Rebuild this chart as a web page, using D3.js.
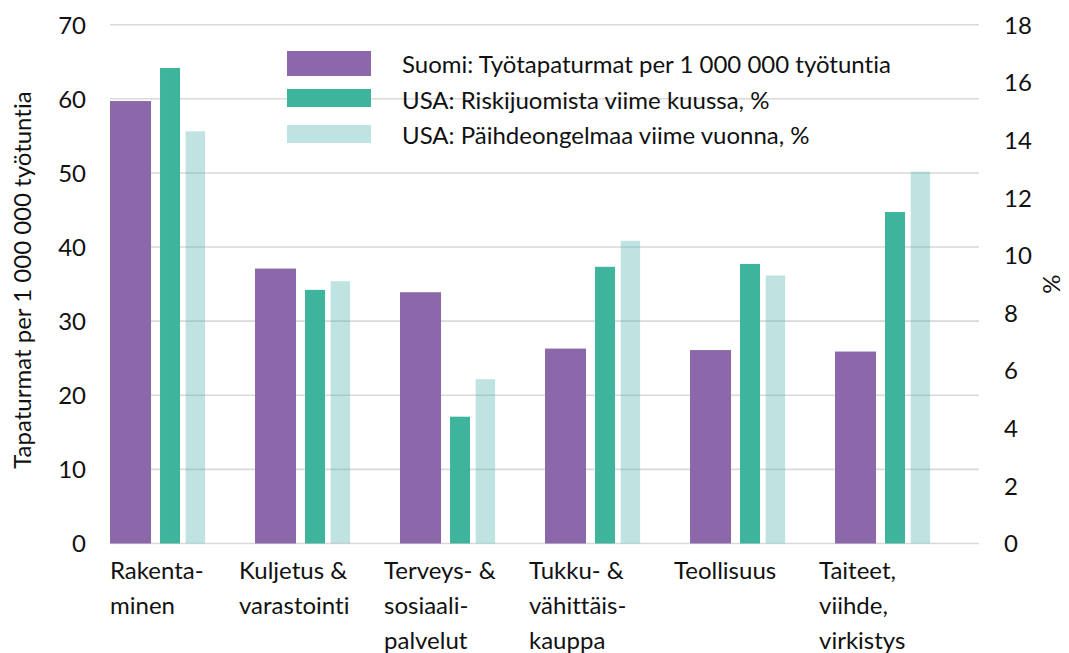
<!DOCTYPE html>
<html>
<head>
<meta charset="utf-8">
<script src="https://cdn.jsdelivr.net/npm/d3@7"></script>
<style>
  body { margin: 0; background: #fff; }
  svg text { font-family: Lato, "Open Sans", sans-serif; fill: #111; font-variant-ligatures: none; }
</style>
</head>
<body>
<svg id="chart" width="1069" height="653"></svg>
<script>
// categories, each label already split into lines
var categories = ["Rakentaminen", "Kuljetus", "Terveys", "Tukku", "Teollisuus", "Taiteet"];
var categoryLines = [
    ["Rakenta-", "minen"],
    ["Kuljetus &", "varastointi"],
    ["Terveys- &", "sosiaali-", "palvelut"],
    ["Tukku- &", "vähittäis-", "kauppa"],
    ["Teollisuus"],
    ["Taiteet,", "viihde,", "virkistys"]
];
// Suomi: työtapaturmat per 1 000 000 työtuntia (left axis)
var suomi = [59.7, 37.1, 33.9, 26.3, 26.1, 25.9];
// USA: riskijuomista viime kuussa, % (right axis)
var riski = [16.5, 8.8, 4.4, 9.6, 9.7, 11.5];
// USA: päihdeongelmaa viime vuonna, % (right axis)
var paihde = [14.3, 9.1, 5.7, 10.5, 9.3, 12.9];

var leftTicks = [0, 10, 20, 30, 40, 50, 60, 70];
var rightTicks = [0, 2, 4, 6, 8, 10, 12, 14, 16, 18];
var legendLabels = [
    "Suomi: Työtapaturmat per 1 000 000 työtuntia",
    "USA: Riskijuomista viime kuussa, %",
    "USA: Päihdeongelmaa viime vuonna, %"
];

var colors = { suomi: "#8B68A9", riski: "#3FB49C", paihde: "#5FB9B4" };
var fs = 24;

var svg = d3.select("#chart");
var plotL = 110, plotR = 980, plotT = 24.7, plotB = 543.5;

var x = d3.scaleBand().domain(categories).range([plotL, plotR]).padding(0);
var yL = d3.scaleLinear().domain([0, 70]).range([plotB, plotT]);
var yR = d3.scaleLinear().domain([0, 18]).range([plotB, plotT]);

// gridlines
svg.append("g")
    .selectAll("line")
    .data(leftTicks)
    .enter().append("line")
    .attr("x1", plotL).attr("x2", plotR - 1)
    .attr("y1", d => yL(d)).attr("y2", d => yL(d))
    .attr("stroke", "#d9d9d9")
    .attr("stroke-width", 1.6);

// left axis
var axL = svg.append("g")
    .attr("transform", `translate(${plotL - 24},0)`)
    .call(d3.axisLeft(yL).tickValues(leftTicks).tickSize(0).tickPadding(0));
axL.select(".domain").remove();
axL.selectAll("text").attr("font-size", fs).attr("dy", "0.35em");

// right axis
var axR = svg.append("g")
    .attr("transform", `translate(1004,0)`)
    .call(d3.axisRight(yR).tickValues(rightTicks).tickSize(0).tickPadding(0));
axR.select(".domain").remove();
axR.selectAll("text").attr("font-size", fs).attr("dy", "0.35em");
svg.selectAll("g").attr("font-family", null);

// bars: offsets inside each 145px group
var bw = x.bandwidth();
var series = [
    { values: suomi, scale: yL, color: colors.suomi, off: 0, w: bw * 0.283, op: 1 },
    { values: riski, scale: yR, color: colors.riski, off: bw * 0.345, w: bw * 0.138, op: 1 },
    { values: paihde, scale: yR, color: colors.paihde, off: bw * 0.522, w: bw * 0.134, op: 0.4 }
];
series.forEach(function (s) {
    svg.append("g")
        .selectAll("rect")
        .data(s.values)
        .enter().append("rect")
        .attr("x", (d, i) => x(categories[i]) + s.off)
        .attr("width", s.w)
        .attr("y", d => s.scale(d))
        .attr("height", d => plotB - s.scale(d))
        .attr("fill", s.color)
        .attr("fill-opacity", s.op);
});

// category labels
var lab = svg.append("g")
    .selectAll("text")
    .data(categoryLines)
    .enter().append("text")
    .attr("font-size", fs)
    .attr("x", (d, i) => Math.max(plotL, x(categories[i]) - 16));
lab.each(function (lines, i) {
    var t = d3.select(this);
    var lx = t.attr("x");
    lines.forEach(function (l, j) {
        t.append("tspan").attr("x", lx).attr("y", 578.5 + j * 35).text(l);
    });
});

// axis titles
svg.append("text")
    .attr("transform", `translate(31,${(plotT + plotB) / 2 - 4}) rotate(-90)`)
    .attr("text-anchor", "middle")
    .attr("font-size", fs)
    .text("Tapaturmat per 1 000 000 työtuntia");
svg.append("text")
    .attr("transform", `translate(1060,${(plotT + plotB) / 2}) rotate(-90)`)
    .attr("text-anchor", "middle")
    .attr("font-size", fs)
    .text("%");

// legend
var legendSw = [
    { y: 51, h: 25, color: colors.suomi, op: 1 },
    { y: 89, h: 18, color: colors.riski, op: 1 },
    { y: 125, h: 18, color: colors.paihde, op: 0.4 }
];
var leg = svg.append("g");
leg.selectAll("rect")
    .data(legendSw)
    .enter().append("rect")
    .attr("x", 287).attr("width", 84)
    .attr("y", d => d.y).attr("height", d => d.h)
    .attr("fill", d => d.color)
    .attr("fill-opacity", d => d.op);
leg.selectAll("text")
    .data(legendLabels)
    .enter().append("text")
    .attr("x", 402)
    .attr("y", (d, i) => 73 + i * 35.5)
    .attr("font-size", fs)
    .text(d => d);
</script>
</body>
</html>
